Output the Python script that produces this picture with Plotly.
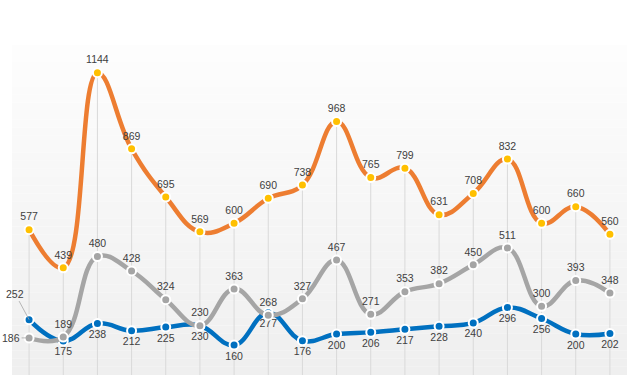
import plotly.graph_objects as go

categories = list(range(1, 19))
orange_vals = [577, 439, 1144, 869, 695, 569, 600, 690, 738, 968, 765, 799, 631, 708, 832, 600, 660, 560]
gray_vals = [186, 189, 480, 428, 324, 230, 363, 268, 327, 467, 271, 353, 382, 450, 511, 300, 393, 348]
blue_vals = [252, 175, 238, 212, 225, 230, 160, 277, 176, 200, 206, 217, 228, 240, 296, 256, 200, 202]

ORANGE = "#ED7D31"
YELLOW = "#FFC000"
GRAY = "#A5A5A5"
BLUE = "#0070C0"
TXT = "#404040"
FONT = "Liberation Sans"

Y_MIN, Y_MAX = 52, 1244

fig = go.Figure()

# gradient background of plot area
n = 40
for i in range(n):
    t = i / (n - 1)
    c = int(round(253 - t * (253 - 239)))
    fig.add_shape(type="rect", xref="x domain", yref="y domain",
                  x0=0, x1=1, y0=1 - (i + 1) / n, y1=1 - i / n,
                  fillcolor=f"rgb({c},{c},{c})", line_width=0, layer="below")

# drop lines from highest value down
xs, ys = [], []
for i, c in enumerate(categories):
    top = max(orange_vals[i], gray_vals[i], blue_vals[i])
    xs += [c, c, None]
    ys += [top, 0, None]
fig.add_trace(go.Scatter(x=xs, y=ys, mode="lines", line=dict(color="#D9D9D9", width=1),
                         hoverinfo="skip", showlegend=False))

def series(vals, line_color, marker_color, textpos, show_text):
    texts = [str(v) if s else "" for v, s in zip(vals, show_text)]
    return go.Scatter(
        x=categories, y=vals, mode="lines+markers+text",
        line=dict(color=line_color, width=4.5, shape="spline", smoothing=1.2),
        marker=dict(color=marker_color, size=9, line=dict(color="white", width=2)),
        text=texts, textposition=textpos,
        textfont=dict(family=FONT, size=10.5, color=TXT),
        cliponaxis=False, showlegend=False)

show_first_hidden = [False] + [True] * 17
fig.add_trace(series(blue_vals, BLUE, BLUE, "bottom center", show_first_hidden))
fig.add_trace(series(gray_vals, GRAY, GRAY, "top center", show_first_hidden))
fig.add_trace(series(orange_vals, ORANGE, YELLOW, "top center", [True] * 18))

# first-point labels with leader lines
fig.add_annotation(x=categories[0], y=blue_vals[0], text=str(blue_vals[0]),
                   showarrow=True, arrowhead=0, arrowwidth=0.8, arrowcolor="#A6A6A6",
                   ax=-14, ay=-26, font=dict(family=FONT, size=10.5, color=TXT))
fig.add_annotation(x=categories[0], y=gray_vals[0], text=str(gray_vals[0]),
                   showarrow=True, arrowhead=0, arrowwidth=0.8, arrowcolor="#A6A6A6",
                   ax=-18, ay=0, font=dict(family=FONT, size=10.5, color=TXT))

fig.update_layout(
    width=640, height=375,
    margin=dict(l=12, r=13, t=45, b=0),
    paper_bgcolor="white", plot_bgcolor="rgba(0,0,0,0)",
    hovermode=False,
    xaxis=dict(range=[0.5, 18.5], showgrid=False, zeroline=False, showticklabels=False,
               showline=False, ticks=""),
    yaxis=dict(range=[Y_MIN, Y_MAX], showgrid=False, zeroline=False, showticklabels=False,
               showline=False, ticks=""),
)

fig.write_html("out.html", config={"displayModeBar": False},
               post_script="document.body.style.margin='0';")
